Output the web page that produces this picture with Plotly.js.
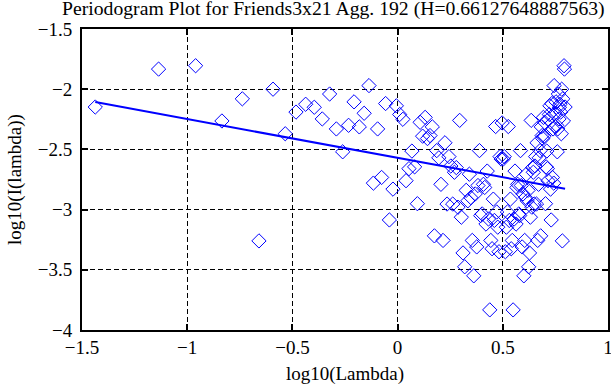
<!DOCTYPE html>
<html>
<head>
<meta charset="utf-8">
<script src="https://cdn.plot.ly/plotly-3.0.1.min.js"></script>
<style>html,body{margin:0;padding:0;background:#fff;}#chart{width:611px;height:385px;}</style>
</head>
<body>
<div id="chart"></div>
<script>
// log10(Lambda) for each Fourier frequency
const logLambda = [
-1.437,-1.136,-0.960,-0.835,-0.738,-0.659,-0.592,-0.534,-0.483,-0.437,
-0.396,-0.358,-0.323,-0.291,-0.261,-0.233,-0.207,-0.182,-0.159,-0.136,
-0.115,-0.095,-0.076,-0.057,-0.039,-0.022,-0.006,0.010,0.025,0.040,
0.054,0.068,0.081,0.094,0.107,0.119,0.131,0.142,0.154,0.165,
0.175,0.186,0.196,0.206,0.216,0.225,0.235,0.244,0.253,0.262,
0.270,0.279,0.287,0.295,0.303,0.311,0.319,0.326,0.334,0.341,
0.348,0.355,0.362,0.369,0.376,0.382,0.389,0.395,0.402,0.408,
0.414,0.420,0.426,0.432,0.438,0.443,0.449,0.455,0.460,0.466,
0.471,0.476,0.482,0.487,0.492,0.497,0.502,0.507,0.512,0.517,
0.522,0.526,0.531,0.536,0.540,0.545,0.549,0.554,0.558,0.563,
0.567,0.571,0.576,0.580,0.584,0.588,0.592,0.596,0.600,0.604,
0.608,0.612,0.616,0.620,0.623,0.627,0.631,0.635,0.638,0.642,
0.645,0.649,0.653,0.656,0.660,0.663,0.666,0.670,0.673,0.677,
0.680,0.683,0.687,0.690,0.693,0.696,0.699,0.703,0.706,0.709,
0.712,0.715,0.718,0.721,0.724,0.727,0.730,0.733,0.736,0.739,
0.742,0.744,0.747,0.750,0.753,0.756,0.759,0.761,0.764,0.767,
0.769,0.772,0.775,0.778,0.780,0.783,0.785,0.788,0.791,0.793,
0.796
];
// log10(I(lambda)) periodogram values
const logI = [
-2.148,-1.833,-1.805,-2.264,-2.08,-3.26,-2.0,-2.37,-2.19,-2.125,
-2.15,-2.247,-2.04,-2.33,-2.52,-2.30,-2.105,-2.313,-2.20,-1.97,
-2.78,-2.33,-2.733,-2.119,-3.086,-2.83,-2.138,-2.21,-2.25,-2.76,
-2.66,-2.514,-2.645,-2.951,-2.275,-2.39,-2.234,-2.41,-2.385,-2.313,
-3.218,-2.51,-2.57,-2.79,-3.256,-2.445,-2.954,-2.56,-2.638,-2.954,
-2.69,-2.651,-2.98,-2.259,-3.063,-3.36,-3.475,-2.84,-2.927,-2.706,
-2.9,-3.256,-3.55,-2.87,-3.31,-2.8,-2.51,-3.05,-3.036,-2.79,
-2.816,-3.12,-2.68,-3.078,-3.833,-3.256,-3.325,-2.913,-3.09,-2.31,
-3.02,-3.146,-3.35,-2.56,-2.58,-2.28,-2.58,-2.56,-3.35,-3.146,
-3.02,-2.31,-3.09,-2.913,-3.325,-3.256,-3.833,-3.078,-2.68,-3.12,
-2.816,-2.79,-3.036,-3.05,-2.51,-2.8,-3.31,-2.87,-3.55,-3.256,
-2.9,-2.706,-2.927,-2.84,-3.475,-3.36,-3.063,-2.259,-2.98,-2.651,
-2.69,-2.954,-2.638,-2.56,-2.954,-2.445,-3.256,-2.79,-2.57,-2.51,
-3.218,-2.313,-2.385,-2.41,-2.234,-2.39,-2.275,-2.951,-2.645,-2.514,
-2.66,-2.76,-2.25,-2.21,-2.138,-2.83,-3.086,-2.119,-2.733,-2.33,
-2.78,-1.97,-2.20,-2.313,-2.105,-2.30,-2.52,-2.33,-2.04,-2.247,
-2.15,-2.125,-2.19,-2.37,-2.0,-3.26,-2.08,-2.264,-1.805,-1.833,
-2.148
];
// fitted regression line (slope = 1 - 2H)
const fitX = [-1.437, 0.796];
const fitY = [-2.107, -2.827];

const xTicks = [-1.5, -1, -0.5, 0, 0.5, 1];
const xTickText = ['\u22121.5', '\u22121', '\u22120.5', '0', '0.5', '1'];
const yTicks = [-4, -3.5, -3, -2.5, -2, -1.5];
const yTickText = ['\u22124', '\u22123.5', '\u22123', '\u22122.5', '\u22122', '\u22121.5'];

const titleText = 'Periodogram Plot for Friends3x21 Agg. 192 (H=0.66127648887563)';

const FONT = 'Liberation Serif, Times New Roman, serif';

const traces = [
  {
    type: 'scatter', mode: 'markers', x: logLambda, y: logI,
    marker: {symbol: 'diamond-open', size: 11, color: '#0000ff', line: {width: 1, color: '#0000ff'}},
    showlegend: false, hoverinfo: 'skip'
  },
  {
    type: 'scatter', mode: 'lines', x: fitX, y: fitY,
    line: {color: '#0000ff', width: 2},
    showlegend: false, hoverinfo: 'skip'
  }
];

const axisCommon = {
  showline: true, linecolor: '#000', linewidth: 2, mirror: 'ticks',
  ticks: 'inside', ticklen: 6, tickwidth: 2, tickcolor: '#000',
  showgrid: true, gridcolor: '#000', gridwidth: 1, griddash: '5px,3px',
  zeroline: false, tickmode: 'array', ticklabeloverflow: 'allow',
  tickfont: {family: FONT, size: 19, color: '#000'}
};

const layout = {
  width: 611, height: 385,
  margin: {l: 82, r: 3, t: 29, b: 55},
  paper_bgcolor: '#fff', plot_bgcolor: '#fff',
  font: {family: FONT, size: 19, color: '#000'},
  title: {
    text: titleText,
    font: {family: FONT, size: 19.7, color: '#000'},
    xref: 'container', x: 62 / 611, xanchor: 'left',
    yref: 'container', y: 1 - 8 / 385, yanchor: 'middle'
  },
  xaxis: Object.assign({}, axisCommon, {
    range: [-1.5, 1], tickvals: xTicks, ticktext: xTickText,
    ticklabelstandoff: -1,
    title: {text: 'log10(Lambda)', font: {family: FONT, size: 19, color: '#000'}, standoff: 11}
  }),
  yaxis: Object.assign({}, axisCommon, {
    range: [-4, -1.5], tickvals: yTicks, ticktext: yTickText,
    ticklabelstandoff: 4,
    title: {text: 'log10(I(lambda))', font: {family: FONT, size: 19, color: '#000'}, standoff: 11}
  })
};

Plotly.newPlot('chart', traces, layout, {staticPlot: true, displayModeBar: false});
</script>
</body>
</html>
